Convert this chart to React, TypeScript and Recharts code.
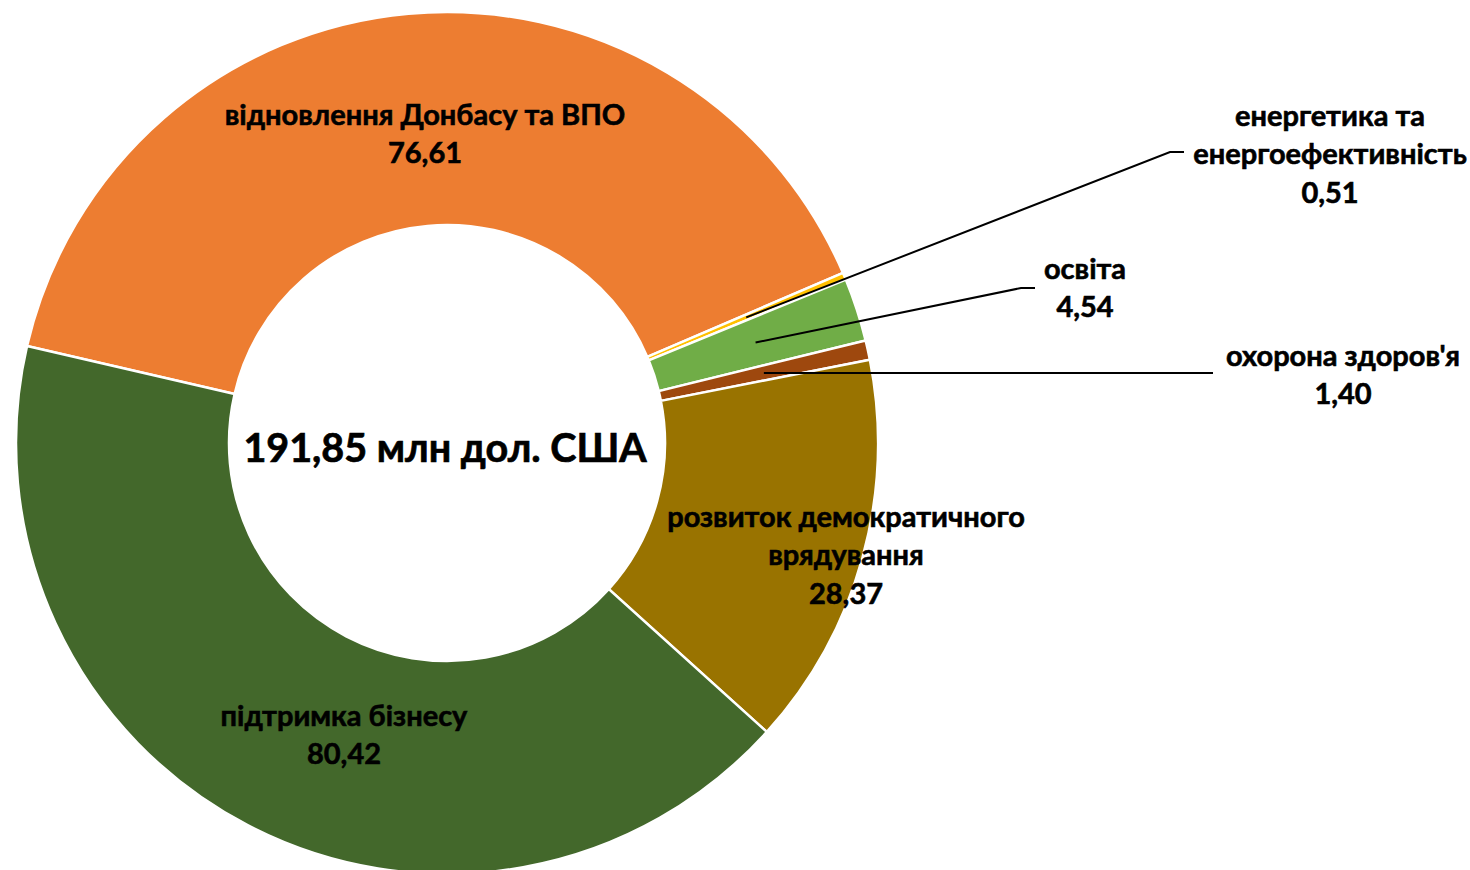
import React from 'react';
import { PieChart, Pie, Cell } from 'recharts';

const CATEGORIES = [
  'відновлення Донбасу та ВПО',
  'енергетика та енергоефективність',
  'освіта',
  "охорона здоров'я",
  'розвиток демократичного врядування',
  'підтримка бізнесу',
];
const VALUES = [76.61, 0.51, 4.54, 1.4, 28.37, 80.42];
const LABEL_LINES = [
  ['відновлення Донбасу та ВПО'],
  ['енергетика та', 'енергоефективність'],
  ['освіта'],
  ["охорона здоров'я"],
  ['розвиток демократичного', 'врядування'],
  ['підтримка бізнесу'],
];
const TOTAL_LABEL = '191,85 млн дол. США';

const COLORS = ['#ED7D31', '#FFC000', '#70AD47', '#9E480E', '#997300', '#43682B'];

// label placement relative to chart centre (text block first-line centre, optional leader elbow/end)
const LABEL_LAYOUT = [
  { dx: -22, dy: -330 },
  { dx: 883, dy: -329, elbow: [723, -291], end: [737, -291] },
  { dx: 638, dy: -176, elbow: [574, -155], end: [588, -155] },
  { dx: 896, dy: -89, horizontal: 766 },
  { dx: 399, dy: 72 },
  { dx: -103, dy: 271 },
];

const FONT = 'Lato, "Noto Sans", sans-serif';
const LABEL_SIZE = 29;
const LINE_H = 38.5;

const data = CATEGORIES.map((name, i) => ({ name, value: VALUES[i] }));

const fmt = (v: number) => v.toFixed(2).replace('.', ',');

const RAD = Math.PI / 180;

const renderLabel = (props: any) => {
  const { cx, cy, midAngle, innerRadius, outerRadius, index, value } = props;
  const lay = LABEL_LAYOUT[index];
  const lines = [...LABEL_LINES[index], fmt(value)];
  const tx = cx + lay.dx;
  const ty = cy + lay.dy;
  const midR = (innerRadius + outerRadius) / 2;
  const sx = cx + midR * Math.cos(-midAngle * RAD);
  const sy = cy + midR * Math.sin(-midAngle * RAD);
  let leader: React.ReactNode = null;
  if (lay.elbow && lay.end) {
    const pts = `${sx},${sy} ${cx + lay.elbow[0]},${cy + lay.elbow[1]} ${cx + lay.end[0]},${cy + lay.end[1]}`;
    leader = <polyline points={pts} fill="none" stroke="#000" strokeWidth={2} />;
  } else if (lay.horizontal) {
    leader = <line x1={sx} y1={sy} x2={cx + lay.horizontal} y2={sy} stroke="#000" strokeWidth={2} />;
  }
  return (
    <g key={`lbl-${index}`}>
      {leader}
      {lines.map((ln, i) => (
        <text
          key={i}
          x={tx}
          y={ty + i * LINE_H}
          textAnchor="middle"
          dominantBaseline="central"
          fontFamily={FONT}
          fontWeight={700}
          fontSize={LABEL_SIZE}
          fill="#000"
          stroke="#000"
          strokeWidth={0.6}
        >
          {ln}
        </text>
      ))}
    </g>
  );
};

export default function App() {
  const CX = 447;
  const CY = 443;
  return (
    <div style={{ position: 'absolute', left: 0, top: 0, width: 1470, height: 870, background: '#fff', overflow: 'hidden' }}>
      <PieChart width={1470} height={870} margin={{ top: 0, right: 0, bottom: 0, left: 0 }}>
        <Pie
          data={data}
          dataKey="value"
          nameKey="name"
          cx={CX}
          cy={CY}
          innerRadius={218}
          outerRadius={431}
          startAngle={167}
          endAngle={-193}
          stroke="#fff"
          strokeWidth={2.5}
          label={renderLabel}
          labelLine={false}
          isAnimationActive={false}
        >
          {data.map((d, i) => (
            <Cell key={d.name} fill={COLORS[i]} />
          ))}
        </Pie>
        <text
          x={CX - 2}
          y={CY + 3}
          textAnchor="middle"
          dominantBaseline="central"
          fontFamily={FONT}
          fontWeight={700}
          fontSize={39.5}
          fill="#000"
          stroke="#000"
          strokeWidth={0.7}
        >
          {TOTAL_LABEL}
        </text>
      </PieChart>
    </div>
  );
}
